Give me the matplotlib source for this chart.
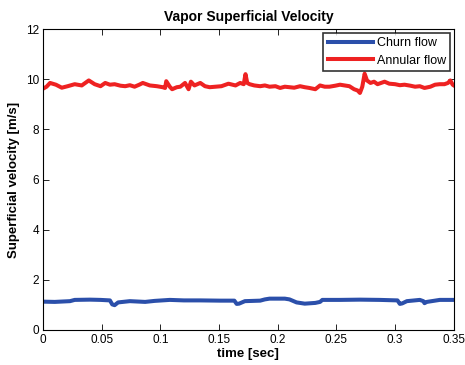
import matplotlib
matplotlib.use("Agg")
import matplotlib.pyplot as plt

plt.rcParams['font.family'] = ['Liberation Sans', 'DejaVu Sans']

title = "Vapor Superficial Velocity"
xlabel = "time [sec]"
ylabel = "Superficial velocity [m/s]"
series_names = ["Churn flow", "Annular flow"]

churn_t = [0.0, 0.01, 0.023, 0.027, 0.04, 0.049, 0.057, 0.059, 0.061, 0.064, 0.074,
           0.087, 0.095, 0.108, 0.12, 0.134, 0.151, 0.163, 0.165, 0.167, 0.172, 0.185,
           0.189, 0.193, 0.206, 0.21, 0.216, 0.223, 0.232, 0.236, 0.238, 0.253, 0.27,
           0.287, 0.302, 0.304, 0.306, 0.31, 0.321, 0.324, 0.325, 0.327, 0.338, 0.35]
churn_v = [1.13, 1.12, 1.15, 1.2, 1.21, 1.2, 1.18, 1.02, 0.99, 1.1, 1.15,
           1.12, 1.16, 1.2, 1.18, 1.18, 1.17, 1.17, 1.04, 1.05, 1.15, 1.17,
           1.22, 1.25, 1.25, 1.22, 1.1, 1.05, 1.08, 1.12, 1.2, 1.2, 1.21,
           1.2, 1.18, 1.04, 1.06, 1.15, 1.2, 1.15, 1.07, 1.12, 1.2, 1.2]

annular_t = [0.0, 0.003, 0.006, 0.011, 0.016, 0.021, 0.027, 0.033, 0.039, 0.044, 0.049,
             0.053, 0.057, 0.061, 0.066, 0.07, 0.074, 0.078, 0.082, 0.085, 0.091, 0.097,
             0.102, 0.104, 0.105, 0.108, 0.11, 0.114, 0.117, 0.121, 0.124, 0.126, 0.129,
             0.134, 0.138, 0.142, 0.147, 0.152, 0.158, 0.164, 0.168, 0.171, 0.1725, 0.174,
             0.176, 0.18, 0.185, 0.189, 0.193, 0.198, 0.202, 0.206, 0.21, 0.214, 0.219,
             0.223, 0.227, 0.232, 0.236, 0.24, 0.244, 0.249, 0.253, 0.257, 0.261, 0.265,
             0.268, 0.27, 0.272, 0.274, 0.276, 0.279, 0.282, 0.285, 0.288, 0.291, 0.295,
             0.3, 0.304, 0.308, 0.313, 0.317, 0.321, 0.325, 0.33, 0.334, 0.338, 0.342,
             0.345, 0.347, 0.349, 0.35]
annular_v = [9.62, 9.7, 9.85, 9.78, 9.66, 9.72, 9.8, 9.75, 9.95, 9.8, 9.72,
             9.85, 9.78, 9.8, 9.74, 9.72, 9.76, 9.7, 9.78, 9.85, 9.75, 9.72,
             9.68, 9.65, 9.92, 9.7, 9.6, 9.68, 9.7, 9.85, 9.6, 9.9, 9.75,
             9.85, 9.72, 9.68, 9.7, 9.72, 9.82, 9.75, 9.85, 9.8, 10.2, 9.85,
             9.8, 9.75, 9.72, 9.75, 9.7, 9.72, 9.65, 9.7, 9.68, 9.66, 9.72,
             9.68, 9.65, 9.6, 9.75, 9.7, 9.7, 9.74, 9.78, 9.75, 9.72, 9.6,
             9.55, 9.45, 9.7, 10.22, 9.95, 9.85, 9.9, 9.8, 9.85, 9.9, 9.82,
             9.8, 9.76, 9.78, 9.74, 9.7, 9.72, 9.65, 9.7, 9.78, 9.8, 9.8,
             9.85, 9.95, 9.78, 9.75]

xticks = [0, 0.05, 0.1, 0.15, 0.2, 0.25, 0.3, 0.35]
xticklabels = ["0", "0.05", "0.1", "0.15", "0.2", "0.25", "0.3", "0.35"]
yticks = [0, 2, 4, 6, 8, 10, 12]

fig = plt.figure(figsize=(4.65, 3.65), dpi=100)
ax = fig.add_axes([0.0925, 0.0959, 0.8835, 0.8246])

ax.plot(churn_t, churn_v, color="#2b4faa", lw=2.9, label=series_names[0], solid_joinstyle="round")
ax.plot(annular_t, annular_v, color="#ee2222", lw=2.9, label=series_names[1], solid_joinstyle="round")

ax.set_xlim(0, 0.35)
ax.set_ylim(0, 12)
ax.set_xticks(xticks)
ax.set_xticklabels(xticklabels)
ax.set_yticks(yticks)
ax.tick_params(direction="in", top=True, right=True, labelsize=8.5, length=4, width=0.6, pad=3)
for s in ax.spines.values():
    s.set_linewidth(0.8)

ax.set_title(title, fontsize=10, fontweight="bold", pad=6)
ax.set_xlabel(xlabel, fontsize=9.5, fontweight="bold", labelpad=1)
ax.set_ylabel(ylabel, fontsize=9.5, fontweight="bold", labelpad=4)

leg = ax.legend(loc="upper right", fontsize=9, frameon=True, fancybox=False,
                edgecolor="black", borderaxespad=0.3, handlelength=3.6,
                handletextpad=0.3, borderpad=0.35, labelspacing=0.45)
leg.get_frame().set_linewidth(1.2)

fig.savefig("out.png", dpi=100)
